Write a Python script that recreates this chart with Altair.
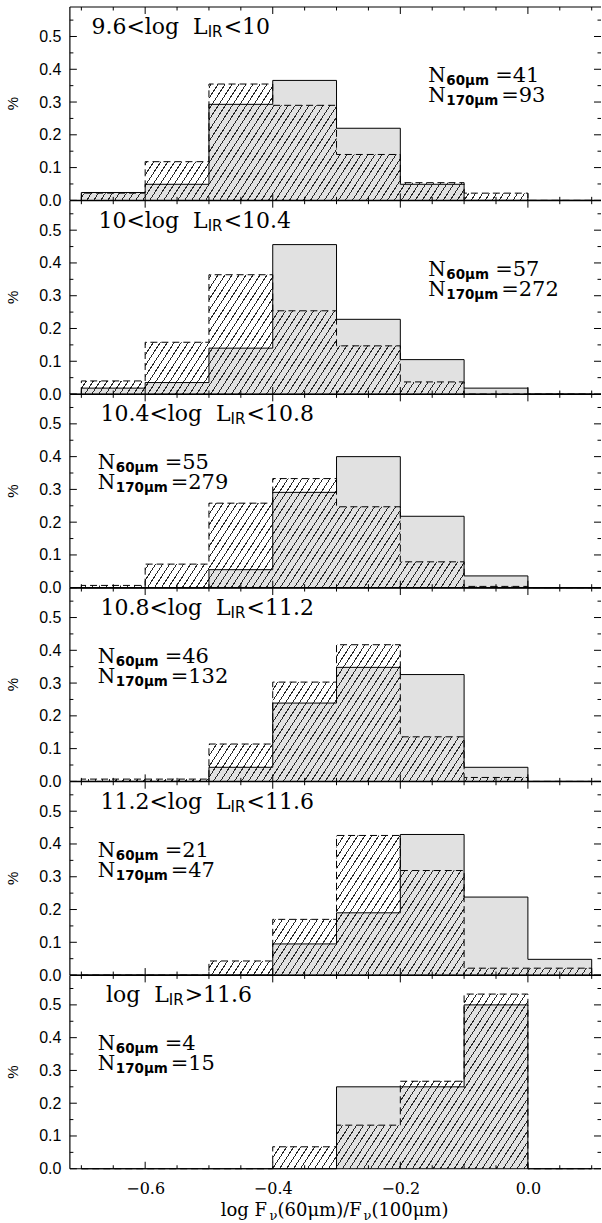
import math
import altair as alt
import pandas as pd

# ---- data -------------------------------------------------------------
bin_edges = [-0.7, -0.6, -0.5, -0.4, -0.3, -0.2, -0.1, 0.0, 0.1]

# fraction of galaxies per bin, 60um-selected sample (grey, solid outline)
frac_60 = [
    [0.024, 0.049, 0.293, 0.366, 0.220, 0.049, 0.000, 0.000],
    [0.018, 0.035, 0.140, 0.456, 0.228, 0.105, 0.018, 0.000],
    [0.000, 0.000, 0.055, 0.291, 0.400, 0.218, 0.036, 0.000],
    [0.000, 0.000, 0.043, 0.239, 0.348, 0.326, 0.043, 0.000],
    [0.000, 0.000, 0.000, 0.095, 0.190, 0.429, 0.238, 0.048],
    [0.000, 0.000, 0.000, 0.000, 0.250, 0.250, 0.500, 0.000],
]
# fraction of galaxies per bin, 170um-selected sample (hatched, dashed outline)
frac_170 = [
    [0.022, 0.118, 0.355, 0.290, 0.140, 0.054, 0.022, 0.000],
    [0.040, 0.158, 0.364, 0.254, 0.147, 0.037, 0.000, 0.000],
    [0.007, 0.072, 0.258, 0.333, 0.247, 0.079, 0.004, 0.000],
    [0.007, 0.007, 0.114, 0.303, 0.417, 0.136, 0.012, 0.000],
    [0.000, 0.000, 0.043, 0.170, 0.426, 0.319, 0.021, 0.021],
    [0.000, 0.000, 0.000, 0.067, 0.133, 0.267, 0.533, 0.000],
]
n_60 = [41, 57, 55, 46, 21, 4]
n_170 = [93, 272, 279, 132, 47, 15]

# luminosity-bin titles: text before the "IR" subscript, and after it
NB = "\u00a0"
title_pre = [f"9.6<log{NB}{NB}L", f"10<log{NB}{NB}L", f"10.4<log{NB}{NB}L",
             f"10.8<log{NB}{NB}L", f"11.2<log{NB}{NB}L", f"log{NB}{NB}L"]
title_post = ["<10", "<10.4", "<10.8", "<11.2", "<11.6", ">11.6"]

y_major = [0.0, 0.1, 0.2, 0.3, 0.4, 0.5]
y_minor = [0.05, 0.15, 0.25, 0.35, 0.45, 0.55]
x_major = [-0.6, -0.4, -0.2, 0.0]
x_minor = [-0.7, -0.65, -0.55, -0.5, -0.45, -0.35, -0.3, -0.25, -0.15, -0.1, -0.05, 0.05, 0.1]

# ---- layout -----------------------------------------------------------
X0, X1 = -0.718, 0.1146
YMAX = 0.59
W, H = 532, 193.67
px_x = W / (X1 - X0)
px_y = H / YMAX

xscale = alt.Scale(domain=[X0, X1], nice=False, zero=False)
yscale = alt.Scale(domain=[0, YMAX], nice=False, zero=False)

one = pd.DataFrame({"k": [0]})

SERIF = "DejaVu Serif"
SANS = "DejaVu Sans"


def hatch_fill(vmax, angle_deg=57.0, spacing=7.0, width=1.15, ink="#262626"):
    """Diagonal line hatching as a hard-stop linear gradient over the area's bounding box."""
    tn = math.tan(math.radians(angle_deg))
    bw = (bin_edges[-1] - bin_edges[0]) * px_x
    bh = max(vmax * px_y, 1.0)
    C = bw * tn + bh
    S = (bw * tn) ** 2 + bh ** 2
    step = spacing * tn
    lw = width * tn
    stops = []
    c = step * 0.5
    clear = "rgba(0,0,0,0)"
    while c + lw < C:
        o0 = round(c / C, 5)
        o1 = round((c + lw) / C, 5)
        stops += [
            {"offset": o0, "color": clear},
            {"offset": o0, "color": ink},
            {"offset": o1, "color": ink},
            {"offset": o1, "color": clear},
        ]
        c += step
    return {
        "gradient": "linear",
        "x1": 0, "y1": 0,
        "x2": round(C * bw * tn / S, 6), "y2": round(C * bh / S, 6),
        "stops": stops,
    }


def text(s, x, y, size, font=SERIF, weight="normal", align="left", baseline="alphabetic", angle=0):
    return alt.Chart(one).mark_text(
        text=s, x=x, y=y, fontSize=size, font=font, fontWeight=weight,
        align=align, baseline=baseline, angle=angle, color="black",
    )


def panel(i, last):
    xaxis = alt.Axis(
        values=x_major, format=".1f", ticks=False, tickSize=0, domain=False, grid=False,
        labelFont=SERIF, labelFontSize=16, labelColor="black", labelPadding=12,
        labelFlush=False, title=None,
    ) if last else None
    yaxis = alt.Axis(
        values=y_major, format=".1f", ticks=False, tickSize=0, domain=False, grid=False,
        labelFont="Liberation Sans", labelFontSize=16, labelColor="black", labelPadding=9,
        title=None,
    )
    X = alt.X("x:Q", scale=xscale, axis=xaxis)
    Y = alt.Y("y:Q", scale=yscale, axis=yaxis, stack=None)

    f6, f17 = frac_60[i], frac_170[i]
    area60 = pd.DataFrame({"x": bin_edges, "y": f6 + [f6[-1]]})
    area170 = pd.DataFrame({"x": bin_edges, "y": f17 + [f17[-1]]})
    step_x = [bin_edges[0]] + bin_edges
    line60 = pd.DataFrame({"x": step_x, "y": [0.0] + f6 + [0.0], "i": list(range(len(step_x)))})
    line170 = pd.DataFrame({"x": step_x, "y": [0.0] + f17 + [0.0], "i": list(range(len(step_x)))})

    layers = [
        alt.Chart(area60).mark_area(interpolate="step-after", orient="vertical", fill="#e1e1e1").encode(x=X, y=Y),
        alt.Chart(area170).mark_area(interpolate="step-after", orient="vertical",
                                     fill=hatch_fill(max(f17))).encode(x=X, y=Y),
        alt.Chart(line60).mark_line(interpolate="step-after", color="black", strokeWidth=1.0).encode(
            x=X, y=Y, order=alt.Order("i:Q")),
        alt.Chart(line170).mark_line(interpolate="step-after", color="black", strokeWidth=1.0,
                                     strokeDash=[7, 4]).encode(x=X, y=Y, order=alt.Order("i:Q")),
    ]

    # frame (left, top, bottom)
    frame = dict(color="black", strokeWidth=1.2)
    layers += [
        alt.Chart(one).mark_rule(**frame).encode(x=alt.value(0), y=alt.value(0), y2=alt.value(H)),
        alt.Chart(one).mark_rule(**frame).encode(x=alt.value(0), x2=alt.value(W), y=alt.value(0)),
        alt.Chart(one).mark_rule(**frame).encode(x=alt.value(0), x2=alt.value(W), y=alt.value(H)),
    ]

    # inward ticks on all four sides
    tick = dict(color="black", strokeWidth=1.0)
    for vals, ln in ((x_major, 7), (x_minor, 3.5)):
        d = pd.DataFrame({"x": vals})
        layers += [
            alt.Chart(d).mark_rule(**tick).encode(x=X, y=alt.value(0), y2=alt.value(ln)),
            alt.Chart(d).mark_rule(**tick).encode(x=X, y=alt.value(H), y2=alt.value(H - ln)),
        ]
    for vals, ln in ((y_major, 7), (y_minor, 3.5)):
        d = pd.DataFrame({"y": vals})
        layers += [
            alt.Chart(d).mark_rule(**tick).encode(y=Y, x=alt.value(0), x2=alt.value(ln)),
            alt.Chart(d).mark_rule(**tick).encode(y=Y, x=alt.value(W), x2=alt.value(W - ln)),
        ]

    # y title
    layers.append(text("%", -57, H / 2, 15, font="Liberation Sans", align="center",
                       baseline="middle", angle=270))

    # luminosity bin title with L_IR subscript
    ir_x = [138, 138, 161, 161, 161, 99][i]
    layers += [
        text(title_pre[i], ir_x, 27, 22, align="right"),
        text("IR", ir_x, 30, 15, font=SANS),
        text(title_post[i], ir_x + 16, 27, 22),
    ]

    # sample sizes
    x0 = 359 if i < 2 else 28
    layers += [
        text("N", x0, 75, 20),
        text("60\u03bcm", x0 + 18, 78, 13.5, font=SANS, weight="bold"),
        text(f"={n_60[i]}", x0 + 67, 75, 21),
        text("N", x0, 95, 20),
        text("170\u03bcm", x0 + 18, 98, 13.5, font=SANS, weight="bold"),
        text(f"={n_170[i]}", x0 + 73, 95, 21),
    ]

    if i == 0:
        # invisible anchor fixing the outer margins of the figure
        layers.append(alt.Chart(one).mark_rule(strokeOpacity=0, strokeWidth=0).encode(
            x=alt.value(-70), y=alt.value(-6), y2=alt.value(0)))

    if last:
        yb = H + 47
        layers += [
            text("log F", 151, yb, 18),
            text("\u03bd", 200, yb + 4, 13),
            text("(60\u03bcm)/F", 208, yb, 18),
            text("\u03bd", 294, yb + 4, 13),
            text("(100\u03bcm)", 302, yb, 18),
        ]

    return alt.layer(*layers).properties(width=W, height=H)


panels = [panel(i, i == 5) for i in range(6)]

chart = alt.vconcat(*panels, spacing=0, bounds="flush").properties(
    padding=0, background="white"
).configure_view(stroke=None)

chart.save("out.html", embed_options={"renderer": "svg", "actions": False})
